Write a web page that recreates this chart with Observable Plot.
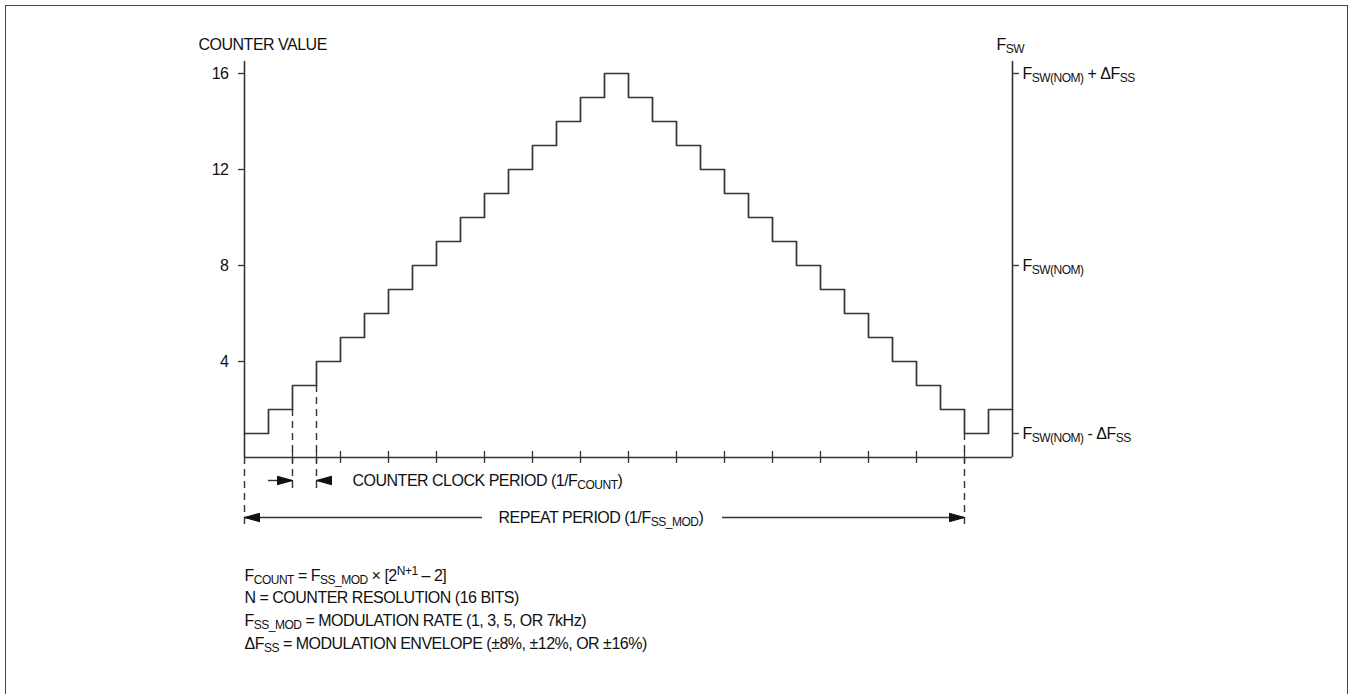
<!DOCTYPE html>
<html>
<head>
<meta charset="utf-8">
<script src="https://cdn.jsdelivr.net/npm/d3@7"></script>
<script src="https://cdn.jsdelivr.net/npm/@observablehq/plot@0.6"></script>
<style>
  html, body { margin: 0; padding: 0; background: #fff; overflow: hidden; }
  #wrap { position: relative; width: 1350px; height: 694px; }
  #border { position: absolute; left: 5px; top: 5px; width: 1343px; height: 700px; border: 1.5px solid #444; box-sizing: border-box; }
  #chart { position: absolute; left: 0; top: 0; }
  svg { display: block; }
  #chart svg text { letter-spacing: -0.5px; }
</style>
</head>
<body>
<div id="wrap"><div id="border"></div><div id="chart"></div></div>
<script>
// ---- data ----
const counterValues = [1,2,3,4,5,6,7,8,9,10,11,12,13,14,15,16,15,14,13,12,11,10,9,8,7,6,5,4,3,2,1,2];
const leftTicks = [4, 8, 12, 16];
const rightTickValues = [16, 8, 1];
const rightTickLabels = ["F_{SW(NOM)} + ΔF_{SS}", "F_{SW(NOM)}", "F_{SW(NOM)} - ΔF_{SS}"];
const xTicks = [2,3,4,6,8,10,12,14,16,18,20,22,24,26,28,30];
const dashX = [0, 2, 3, 30];
const dashTop = [0, 2, 3, 1];
const dashBottom = [-2.95, -1.5, -1.5, -2.95];
const formulaLines = [
  "F_{COUNT} = F_{SS_MOD} × [2^{N+1} – 2]",
  "N = COUNTER RESOLUTION (16 BITS)",
  "F_{SS_MOD} = MODULATION RATE (1, 3, 5, OR 7kHz)",
  "ΔF_{SS} = MODULATION ENVELOPE (±8%, ±12%, OR ±16%)"
];

// ---- layout helpers (pixel -> data units; 24px per unit on both axes) ----
const X = px => (px - 244) / 24;
const Y = py => (457 - py) / 24;

const stepData = counterValues.map((v, i) => ({t: i, v}));
stepData.push({t: counterValues.length, v: counterValues[counterValues.length - 1]});

const rightTicks = rightTickValues.map((v, i) => ({v, label: rightTickLabels[i]}));
const dashes = dashX.map((x, i) => ({x, y1: dashTop[i], y2: dashBottom[i]}));

// arrows: shaft from -> tip
const arrows = [
  {y: Y(480), from: X(268), to: 2},
  {y: Y(480), from: X(332), to: 3},
  {y: Y(517), from: X(482), to: 0},
  {y: Y(517), from: X(722), to: 30}
];
const headLen = 15 / 24, headHalf = 4.2 / 24;
const heads = [];
arrows.forEach((a, k) => {
  const dir = Math.sign(a.to - a.from);
  const base = a.to - dir * headLen;
  heads.push({z: k, x: a.to, y: a.y});
  heads.push({z: k, x: base, y: a.y + headHalf});
  heads.push({z: k, x: base, y: a.y - headHalf});
  heads.push({z: k, x: a.to, y: a.y});
});

const annos = [
  {x: X(198), y: Y(44), text: "COUNTER VALUE"},
  {x: X(996), y: Y(44), text: "F_{SW}"},
  {x: X(352), y: Y(480), text: "COUNTER CLOCK PERIOD (1/F_{COUNT})"},
  {x: X(498), y: Y(517), text: "REPEAT PERIOD (1/F_{SS_MOD})"}
];
const formulaY = [575, 597, 620, 643];
formulaLines.forEach((t, i) => annos.push({x: 0, y: Y(formulaY[i]), text: t}));

const ink = "#333";
const txt = "#111";

const chart = Plot.plot({
  width: 1350,
  height: 694,
  marginLeft: 244,
  marginRight: 338,
  marginTop: 73,
  marginBottom: 237,
  x: {domain: [0, 32], axis: null},
  y: {domain: [0, 16], axis: null},
  style: {fontFamily: "'Liberation Sans', Arial, sans-serif", fontSize: "16px", background: "transparent", overflow: "visible"},
  marks: [
    // axes lines
    Plot.ruleX([0, 32], {y1: 0, y2: Y(61), stroke: ink, strokeWidth: 1.6}),
    Plot.ruleY([0], {x1: 0, x2: 32, stroke: ink, strokeWidth: 1.6}),
    // left ticks + labels
    Plot.ruleY(leftTicks, {x1: X(238), x2: 0, stroke: ink, strokeWidth: 1.3}),
    Plot.text(leftTicks, {x: () => 0, y: d => d, text: d => String(d), dx: -16, textAnchor: "end", fill: txt, fontSize: 16}),
    // right ticks + labels
    Plot.ruleY(rightTicks, {y: "v", x1: 32, x2: X(1019), stroke: ink, strokeWidth: 1.3}),
    Plot.text(rightTicks, {x: () => 32, y: "v", text: "label", dx: 10, textAnchor: "start", fill: txt, fontSize: 16}),
    // x ticks
    Plot.ruleX(xTicks, {y1: 0.25, y2: -0.25, stroke: ink, strokeWidth: 1.3}),
    // dashed leaders
    Plot.ruleX(dashes, {x: "x", y1: "y1", y2: "y2", stroke: ink, strokeWidth: 1.4, strokeDasharray: "7,5"}),
    // staircase
    Plot.line(stepData, {x: "t", y: "v", curve: "step-after", stroke: ink, strokeWidth: 1.7}),
    // arrow shafts
    Plot.ruleY(arrows, {y: "y", x1: "from", x2: "to", stroke: ink, strokeWidth: 1.4}),
    // arrow heads
    Plot.line(heads, {x: "x", y: "y", z: "z", fill: "#111", stroke: "#111", strokeWidth: 1}),
    // annotations
    Plot.text(annos, {x: "x", y: "y", text: "text", textAnchor: "start", lineAnchor: "middle", fill: txt, fontSize: 16})
  ]
});

// convert _{..} and ^{..} into sub/superscript tspans
const NS = "http://www.w3.org/2000/svg";
d3.select(chart).selectAll("text").each(function() {
  const s = this.textContent;
  if (!/[_^]\{/.test(s)) return;
  this.textContent = "";
  const re = /([_^])\{([^}]*)\}/g;
  let last = 0, shift = 0, m;
  const add = (str, dy, size) => {
    if (!str) return;
    const t = document.createElementNS(NS, "tspan");
    t.textContent = str;
    if (dy !== 0) t.setAttribute("dy", dy);
    if (size) t.setAttribute("font-size", size);
    this.appendChild(t);
  };
  while ((m = re.exec(s))) {
    const plain = s.slice(last, m.index);
    if (plain) { add(plain, -shift, null); shift = 0; }
    const target = m[1] === "_" ? 3 : -6;
    add(m[2], target - shift, 12);
    shift = target;
    last = re.lastIndex;
  }
  const rest = s.slice(last);
  if (rest) add(rest, -shift, null);
});

document.getElementById("chart").appendChild(chart);
</script>
</body>
</html>
